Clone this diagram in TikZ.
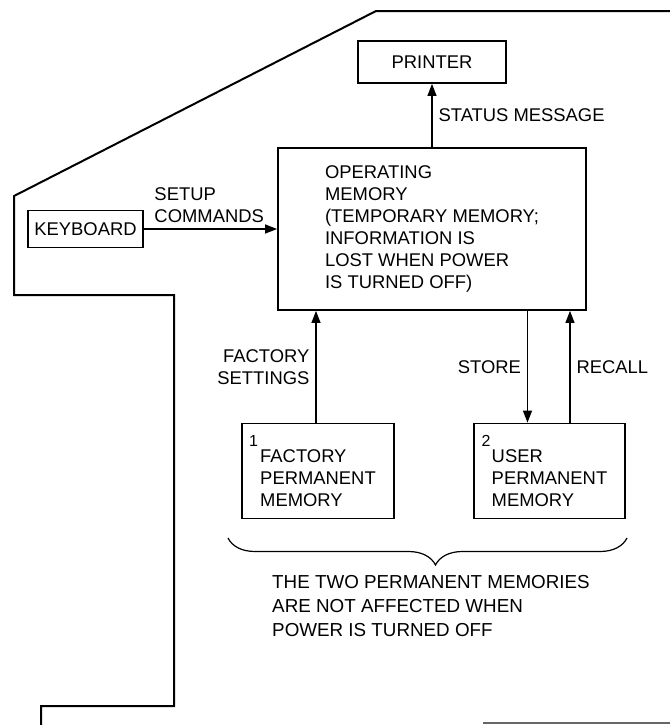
\documentclass[tikz,border=0pt]{standalone}
\usepackage{fontspec}
\setmainfont{Liberation Sans}
\usetikzlibrary{arrows.meta,decorations.pathreplacing}

\begin{document}
\begin{tikzpicture}[x=0.5pt,y=-0.5pt,line width=0.6pt,>={Triangle[length=6pt,width=4.5pt]},
  font=\fontsize{9.2}{11}\selectfont,
  box/.style={draw,line width=0.9pt,align=left,inner sep=0pt},
  lbl/.style={inner sep=3pt},
  num/.style={font=\fontsize{8}{9}\selectfont}]
  \useasboundingbox (0,0) rectangle (670,725);
  % outline
  \draw[line width=1pt] (670,11) -- (376,11) -- (14,196) -- (14,295) -- (174,295)
    -- (174,706) -- (41,706) -- (41,725);
  \draw[black!60] (483,723) -- (670,723);
  % boxes
  \node[box,minimum width=74pt,minimum height=21pt] (printer) at (432,62) {PRINTER};
  \node[box,minimum width=154pt,minimum height=81pt] (op) at (432,229)
    {OPERATING\\MEMORY\\(TEMPORARY MEMORY;\\INFORMATION IS\\LOST WHEN POWER\\IS TURNED OFF)};
  \node[box,minimum width=57.5pt,minimum height=18.5pt] (kbd) at (85.5,229) {KEYBOARD};
  \node[box,minimum width=76pt,minimum height=47.5pt] (fmem) at (318,471)
    {\hspace*{-5.5pt}{\fontsize{8}{9}\selectfont 1}\\[-3pt]FACTORY\\PERMANENT\\MEMORY};
  \node[box,minimum width=75.5pt,minimum height=47.5pt] (umem) at (549.5,471)
    {\hspace*{-5pt}{\fontsize{8}{9}\selectfont 2}\\[-3pt]USER\\PERMANENT\\MEMORY};
  % arrows
  \draw[->] (op) -- (printer) node[lbl,right,midway] (status) {STATUS MESSAGE};
  \draw[->] (kbd) -- (op) node[lbl,pos=0,anchor=south west,align=left,xshift=2pt] (setup) {SETUP\\COMMANDS};
  \draw[->] ([xshift=-1pt]fmem.north) -- ([xshift=-1pt]fmem.north |- op.south)
    node[lbl,left,midway,align=right] (fset) {FACTORY\\SETTINGS};
  \draw[->] ([xshift=-11pt]umem.north |- op.south) -- ([xshift=-11pt]umem.north)
    node[lbl,left,midway] (store) {STORE};
  \draw[->] ([xshift=10.25pt]umem.north) -- ([xshift=10.25pt]umem.north |- op.south)
    node[lbl,right,midway] (recall) {RECALL};
  % brace
  \coordinate (bl) at (228,538);
  \coordinate (br) at (627,538);
  \draw[decorate,decoration={brace,mirror,amplitude=13.5pt,aspect=0.52}] (bl) -- (br);
  \node[align=left,anchor=north,inner sep=0pt,font=\fontsize{9.4}{12}\selectfont] (note) at (431,575)
    {THE TWO PERMANENT MEMORIES\\ARE NOT AFFECTED WHEN\\POWER IS TURNED OFF};
\end{tikzpicture}
\end{document}
